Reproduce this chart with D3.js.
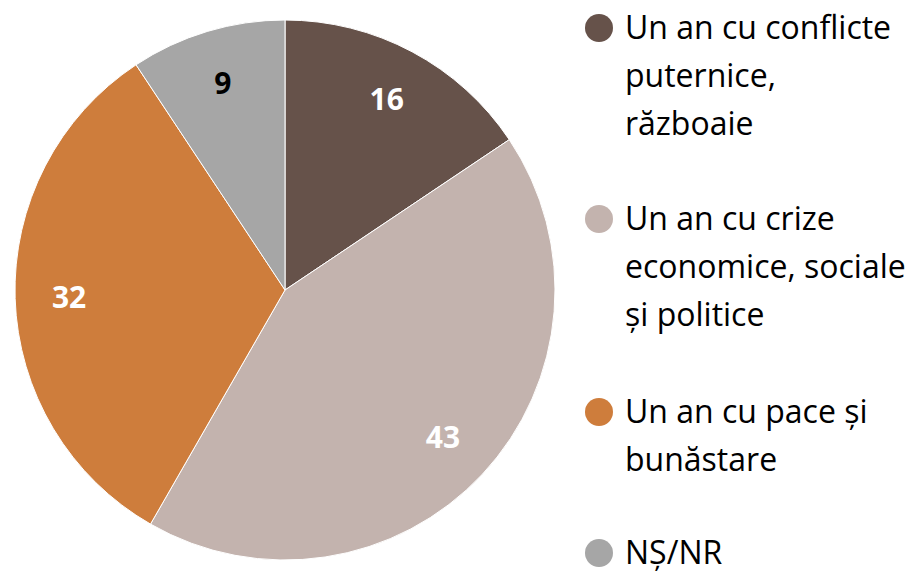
<!doctype html>
<html>
<head>
<meta charset="utf-8">
<script src="https://d3js.org/d3.v7.min.js"></script>
<style>
  body { margin: 0; background: #fff; }
  svg { display: block; }
</style>
</head>
<body>
<svg id="chart" width="919" height="572"></svg>
<script>
// chart data (slice sizes, labels shown rounded)
var categories = ["Un an cu conflicte puternice, războaie", "Un an cu crize economice, sociale și politice", "Un an cu pace și bunăstare", "NȘ/NR"];
var values = [15.6, 42.7, 32.4, 9.3];
var colors = ["#66524a", "#c3b3ae", "#ce7d3c", "#a6a6a6"];
var labelColors = ["#fff", "#fff", "#fff", "#000"];
// legend lines, as wrapped in the picture
var legendLines = [
  ["Un an cu conflicte", "puternice,", "războaie"],
  ["Un an cu crize", "economice, sociale", "și politice"],
  ["Un an cu pace și", "bunăstare"],
  ["NȘ/NR"]
];

var svg = d3.select("#chart");
var font = "'Open Sans', sans-serif";

var cx = 285, cy = 290, radius = 270;

var pie = d3.pie().sort(null).value(function(d) { return d; });
var arc = d3.arc().innerRadius(0).outerRadius(radius);
var labelArc = d3.arc().innerRadius(radius * 0.8).outerRadius(radius * 0.8);
var fmt = d3.format(".0f");

var g = svg.append("g").attr("transform", "translate(" + cx + "," + cy + ")");
var arcs = pie(values);

g.selectAll("path").data(arcs).enter().append("path")
  .attr("d", arc)
  .attr("fill", function(d, i) { return colors[i]; })
  .attr("stroke", "#fff")
  .attr("stroke-width", 1);

g.selectAll("text").data(arcs).enter().append("text")
  .attr("transform", function(d) { return "translate(" + labelArc.centroid(d) + ")"; })
  .attr("text-anchor", "middle")
  .attr("dy", "0.36em")
  .attr("font-family", font)
  .attr("font-weight", "bold")
  .attr("font-size", 30)
  .attr("fill", function(d, i) { return labelColors[i]; })
  .text(function(d) { return fmt(d.data); });

// legend
var legendTop = [28, 219, 412, 553];
var lineH = 48;
var leg = svg.append("g");
categories.forEach(function(c, i) {
  leg.append("circle")
    .attr("cx", 599).attr("cy", legendTop[i])
    .attr("r", 14)
    .attr("fill", colors[i]);
  var t = leg.append("text")
    .attr("font-family", font)
    .attr("font-size", 32)
    .attr("fill", "#000");
  legendLines[i].forEach(function(line, j) {
    t.append("tspan")
      .attr("x", 625)
      .attr("y", legendTop[i] + j * lineH)
      .attr("dy", "0.35em")
      .text(line);
  });
});
</script>
</body>
</html>
